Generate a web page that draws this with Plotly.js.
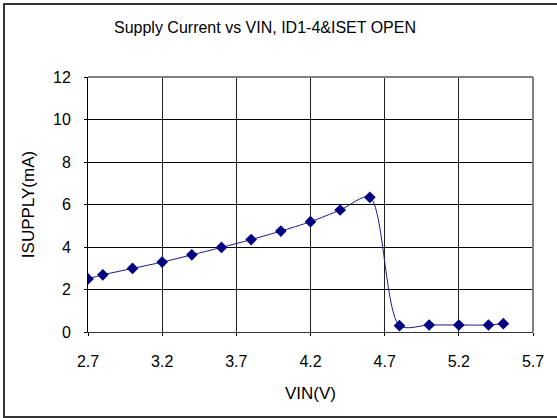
<!DOCTYPE html>
<html>
<head>
<meta charset="utf-8">
<script src="https://cdn.plot.ly/plotly-3.0.1.min.js"></script>
<style>
html,body{margin:0;padding:0;background:#fff;}
#wrap{position:relative;width:557px;height:418px;overflow:hidden;}
#chart{width:557px;height:418px;}
#frame{position:absolute;left:3px;top:3px;width:620px;height:411px;border:2px solid #333;pointer-events:none;}
</style>
</head>
<body>
<div id="wrap"><div id="chart"></div><div id="frame"></div></div>
<script>
var vin = [2.7, 2.8, 3.0, 3.2, 3.4, 3.6, 3.8, 4.0, 4.2, 4.4, 4.6, 4.8, 5.0, 5.2, 5.4, 5.5];
var isupply = [2.50, 2.69, 2.99, 3.29, 3.63, 3.98, 4.35, 4.75, 5.19, 5.74, 6.34, 0.30, 0.33, 0.33, 0.33, 0.39];
var xTicks = [2.7, 3.2, 3.7, 4.2, 4.7, 5.2, 5.7];
var yTicks = [0, 2, 4, 6, 8, 10, 12];

var fam = 'Liberation Sans, Arial, sans-serif';

var trace = {
  x: vin, y: isupply, type: 'scatter', mode: 'lines+markers',
  line: {color: '#1a1a8c', width: 1, shape: 'spline', smoothing: 0.8},
  marker: {symbol: 'diamond', size: 9, color: '#000080'},
  hoverinfo: 'skip', showlegend: false
};

var layout = {
  width: 557, height: 418,
  margin: {l: 88, r: 24, t: 77, b: 86},
  paper_bgcolor: '#fff', plot_bgcolor: '#fff',
  font: {family: fam, size: 16, color: '#000'},
  title: {text: 'Supply Current vs VIN, ID1-4&ISET OPEN', font: {family: fam, size: 16, color: '#000'},
          x: 265/557, xref: 'container', xanchor: 'center', y: 1 - 27/418, yref: 'container', yanchor: 'middle'},
  xaxis: {
    range: [2.7, 5.7], tickvals: xTicks, ticktext: xTicks.map(function(v){return v.toFixed(1);}),
    tickfont: {family: fam, size: 16, color: '#000'},
    showgrid: true, gridcolor: '#222', gridwidth: 1,
    showline: true, linecolor: '#333', linewidth: 1, mirror: false,
    ticks: 'outside', ticklen: 3, tickcolor: '#000', ticklabelstandoff: 12,
    zeroline: false, fixedrange: true,
    title: {text: 'VIN(V)', font: {family: fam, size: 17, color: '#000'}, standoff: 17}
  },
  yaxis: {
    range: [0, 12], tickvals: yTicks,
    tickfont: {family: fam, size: 16, color: '#000'},
    showgrid: true, gridcolor: '#000', gridwidth: 1,
    showline: true, linecolor: '#000', linewidth: 1,
    ticks: 'outside', ticklen: 3, tickcolor: '#000', ticklabelstandoff: 10,
    zeroline: false, fixedrange: true,
    title: {text: 'ISUPPLY(mA)', font: {family: fam, size: 17, color: '#000'}, standoff: 14}
  },
  shapes: [
    {type: 'line', xref: 'paper', yref: 'paper', x0: 0, x1: 1, y0: 1, y1: 1, line: {color: '#808080', width: 2}},
    {type: 'line', xref: 'paper', yref: 'paper', x0: 1, x1: 1, y0: 0, y1: 1, line: {color: '#808080', width: 2}}
  ]
};

Plotly.newPlot('chart', [trace], layout, {staticPlot: true, displayModeBar: false});
</script>
</body>
</html>
